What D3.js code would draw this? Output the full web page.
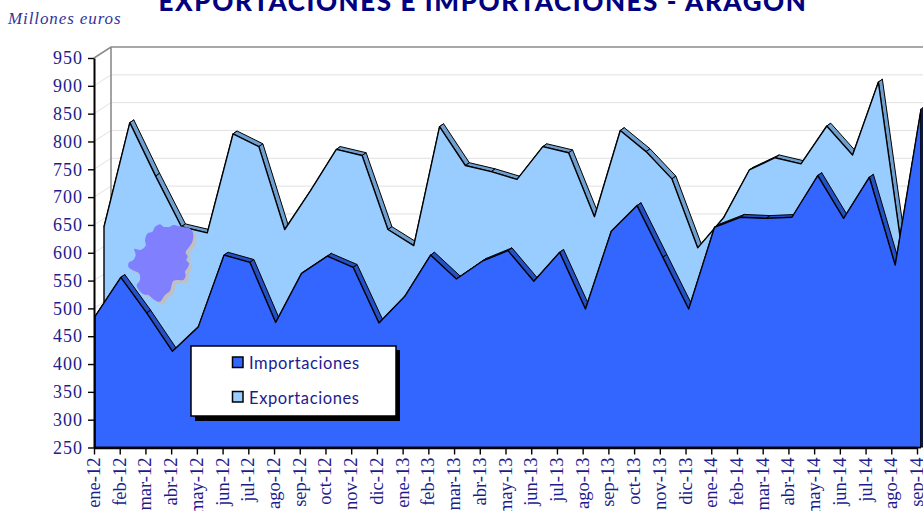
<!DOCTYPE html>
<html><head><meta charset="utf-8">
<script src="https://cdnjs.cloudflare.com/ajax/libs/d3/7.8.5/d3.min.js"></script>
<style>html,body{margin:0;padding:0;background:#fff;overflow:hidden}svg{display:block}</style>
</head><body><svg id="c" width="923" height="511"></svg>
<script>
const months=["ene-12","feb-12","mar-12","abr-12","may-12","jun-12","jul-12","ago-12","sep-12","oct-12","nov-12","dic-12","ene-13","feb-13","mar-13","abr-13","may-13","jun-13","jul-13","ago-13","sep-13","oct-13","nov-13","dic-13","ene-14","feb-14","mar-14","abr-14","may-14","jun-14","jul-14","ago-14","sep-14"];
const importaciones=[484,554,490,421,465,594,581,473,561,592,572,472,520,594,551,583,602,547,599,497,637,683,590,497,644,662,660,662,737,660,734,576,856];
const exportaciones=[636,823,727,636,625,803,780,631,701,775,764,631,602,816,746,735,721,780,769,654,809,771,722,598,652,738,760,749,817,765,896,565,850];
const yTicks=[250,300,350,400,450,500,550,600,650,700,750,800,850,900,950];
const titleText="EXPORTACIONES E IMPORTACIONES - ARAGON";
const unitText="Millones euros";
const legendNames=["Importaciones","Exportaciones"];

const svg=d3.select("#c");
const navy="#1c1c8e";
const y=d3.scaleLinear().domain([250,950]).range([447.5,58]);
const xTick=d3.scalePoint().domain(months).range([94,917]);
const xMark=d3.scalePoint().domain(months).range([95,921]);
const wall={dx:17,dy:-11};

// back and side walls
const gridVals=yTicks.filter(v=>v>250);
svg.append("g").selectAll("line").data(gridVals).join("line")
  .attr("x1",94).attr("y1",d=>y(d)).attr("x2",94+wall.dx).attr("y2",d=>y(d)+wall.dy)
  .attr("stroke","#e2e2e2").attr("stroke-width",1);
svg.append("g").selectAll("line").data(gridVals.slice(0,-1)).join("line")
  .attr("x1",94+wall.dx).attr("x2",923).attr("y1",d=>y(d)+wall.dy).attr("y2",d=>y(d)+wall.dy)
  .attr("stroke","#e0e0e0").attr("stroke-width",1);
svg.append("path").attr("fill","none").attr("stroke","#8c8c8c").attr("stroke-width",1.6)
  .attr("d",`M94,${y(950)}L${94+wall.dx},${y(950)+wall.dy}H923M${94+wall.dx},${y(950)+wall.dy}V${y(250)}`);

// clipped plot
svg.append("clipPath").attr("id","plot").append("rect").attr("x",90).attr("y",40).attr("width",831).attr("height",410);
const plot=svg.append("g").attr("clip-path","url(#plot)");

function layer(values,shiftX,shiftY,faceFill,ribbonFill){
  const px=(d,i)=>xMark(months[i])+shiftX;
  const py=d=>y(d)+shiftY;
  const g=plot.append("g");
  const pairs=d3.pairs(values.map((v,i)=>[px(v,i),py(v)]));
  g.selectAll("path.rib").data(pairs).join("path").attr("class","rib")
    .attr("fill",ribbonFill).attr("stroke","#000").attr("stroke-width",1).attr("stroke-linejoin","round")
    .attr("d",([a,b])=>`M${a[0]},${a[1]}L${a[0]+4},${a[1]-2.8}L${b[0]+4},${b[1]-2.8}L${b[0]},${b[1]}Z`);
  const area=d3.area().x(px).y0(y(250)).y1(py);
  g.append("path").datum(values).attr("d",area).attr("fill",faceFill)
    .attr("stroke","#000").attr("stroke-width",1.4).attr("stroke-linejoin","round");
}
layer(exportaciones,9,-6,"#99ccff","#6f9fcf");

// Aragon silhouette, a decoration on the exports face
const outline=[[125,32],[135,28],[145,35],[165,35],[175,30],[190,33],[205,36],[220,38],[232,48],[235,65],[230,85],[222,97],[212,112],[218,125],[214,135],[222,145],[218,158],[210,170],[212,182],[205,195],[190,195],[175,198],[170,210],[165,228],[150,240],[135,260],[118,255],[100,240],[85,238],[65,212],[75,195],[72,175],[52,165],[40,155],[42,142],[55,135],[62,120],[58,102],[75,105],[92,92],[90,75],[98,55],[112,50],[120,35]];
const shape=d3.line().curve(d3.curveCatmullRomClosed)(outline);
const map=plot.append("g").attr("transform","translate(115,215) scale(0.3333)");
map.append("path").attr("d",shape).attr("fill","#c0c0c0").attr("transform","translate(10,8)");
map.append("path").attr("d",shape).attr("fill","#8080ff");

layer(importaciones,0,-1,"#3366ff","#2450c4");

// right side of the front layer
svg.append("path").attr("fill","#1b2f80").attr("stroke","#000").attr("stroke-width",1)
  .attr("d",`M921,${y(856)-1}L923,${y(856)-3}V447H921Z`);

// axes
const axL=svg.append("g").attr("transform","translate(94,0)")
  .call(d3.axisLeft(y).tickValues(yTicks).tickSize(6).tickPadding(5).tickSizeOuter(0));
axL.select(".domain").attr("stroke","#000").attr("stroke-width",2);
axL.selectAll("line").attr("stroke","#000").attr("stroke-width",1.4);
axL.selectAll("text").attr("fill",navy).attr("font-family","'Liberation Serif'").attr("font-size",18).attr("letter-spacing",1);

const axB=svg.append("g").attr("transform","translate(0,447.5)")
  .call(d3.axisBottom(xTick).tickSize(7).tickSizeOuter(0));
axB.select(".domain").attr("stroke","#000").attr("stroke-width",2.4);
axB.selectAll("line").attr("stroke","#000").attr("stroke-width",1.4);
axB.selectAll("text").attr("fill",navy).attr("font-family","'Liberation Serif'").attr("font-size",18.5)
  .attr("text-anchor","end").attr("dy",0).attr("y",0)
  .attr("transform","translate(5.5,10) rotate(-90)");

// legend
const lg=svg.append("g");
lg.append("rect").attr("x",195).attr("y",350).attr("width",205).attr("height",71).attr("fill","#000");
lg.append("rect").attr("x",191).attr("y",346).attr("width",205).attr("height",70).attr("fill","#fff").attr("stroke","#000").attr("stroke-width",1.5);
const legendFill=["#3366ff","#99ccff"];
legendNames.forEach((n,i)=>{
  const top=357+i*34.5;
  lg.append("rect").attr("x",232.5).attr("y",top).attr("width",10.5).attr("height",10.5)
    .attr("fill",legendFill[i]).attr("stroke","#000").attr("stroke-width",1.5);
  lg.append("text").attr("x",249).attr("y",top+12).text(n)
    .attr("fill",navy).attr("font-family","Lato").attr("font-size",16.5).attr("letter-spacing",0.6);
});

// title
svg.append("text").attr("x",483).attr("y",11).attr("text-anchor","middle").text(titleText)
  .attr("fill","#000080").attr("font-family","Lato").attr("font-weight",900).attr("font-size",26).attr("letter-spacing",1.6);
svg.append("text").attr("x",8).attr("y",24).text(unitText)
  .attr("fill","#333399").attr("font-family","'Liberation Serif'").attr("font-style","italic").attr("font-size",17).attr("letter-spacing",0.9);
</script></body></html>
